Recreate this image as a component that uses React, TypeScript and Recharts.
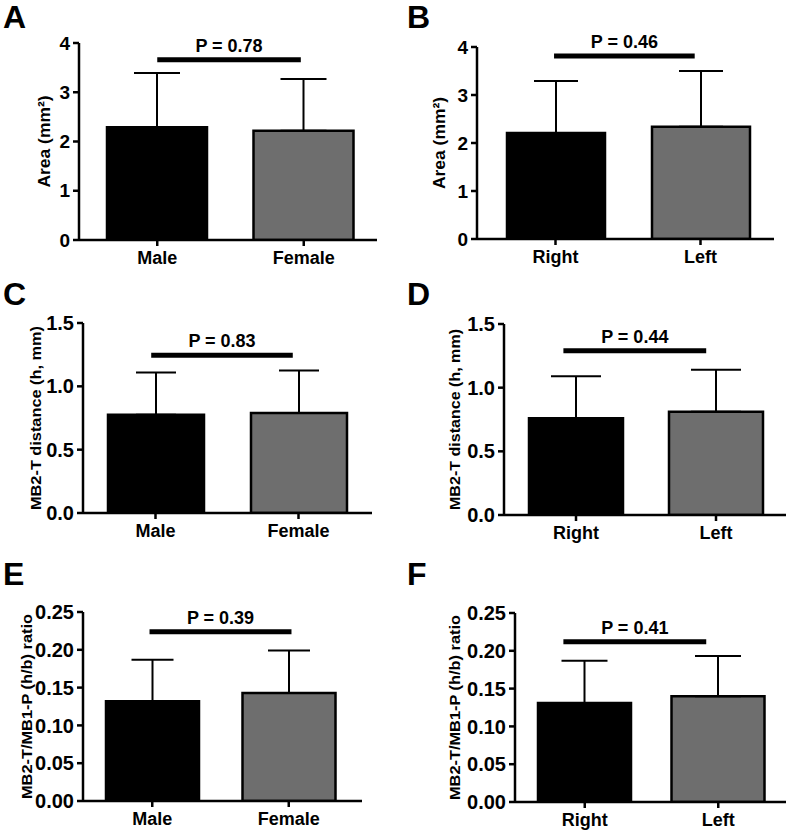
import { BarChart, Bar, Cell, XAxis, YAxis, ErrorBar, ReferenceLine, Label } from 'recharts'

const FONT = '"Liberation Sans", Arial, sans-serif'

const SEX = ['Male', 'Female']
const SIDE = ['Right', 'Left']

const areaBySexMean = [2.29, 2.22]
const areaBySexSD = [1.1, 1.05]
const areaBySideMean = [2.21, 2.34]
const areaBySideSD = [1.08, 1.16]

const distBySexMean = [0.775, 0.79]
const distBySexSD = [0.335, 0.335]
const distBySideMean = [0.76, 0.81]
const distBySideSD = [0.33, 0.33]

const ratioBySexMean = [0.132, 0.143]
const ratioBySexSD = [0.055, 0.056]
const ratioBySideMean = [0.131, 0.14]
const ratioBySideSD = [0.056, 0.053]

const P_VALUES = ['0.78', '0.46', '0.83', '0.44', '0.39', '0.41']
const P_LEVEL = [3.66, 3.81, 1.245, 1.29, 0.224, 0.212]
// where the significance bar starts/ends, as a fraction of the distance between the two bar centres
const P_SPAN = [
  [0, 0.98],
  [-0.01, 0.96],
  [-0.03, 0.96],
  [-0.09, 0.93],
  [-0.02, 1.02],
  [-0.16, 0.91],
]

const AREA_TICKS = [0, 1, 2, 3, 4]
const DIST_TICKS = [0, 0.5, 1, 1.5]
const RATIO_TICKS = [0, 0.05, 0.1, 0.15, 0.2, 0.25]

const BAR_FILLS = ['#000000', '#6e6e6e']

type Layout = {
  ox: number
  oy: number
  w: number
  h: number
  yw: number
  mt: number
  mb: number
  mr: number
  pad: { left: number; right: number }
  barSize: number
  cap: number
  tickFont: number
  labelGap: number
  labelSize: number
  labelLen: number
}

type PanelDef = {
  letter: string
  cats: string[]
  means: number[]
  sds: number[]
  ticks: number[]
  decimals: number
  yLabel: string
  layout: Layout
}

const panels: PanelDef[] = [
  {
    letter: 'A', cats: SEX, means: areaBySexMean, sds: areaBySexSD, ticks: AREA_TICKS, decimals: 0,
    yLabel: 'Area (mm²)',
    layout: { ox: 0, oy: 0, w: 396, h: 280, yw: 79, mt: 43, mb: 10, mr: 19, pad: { left: 5, right: 0 }, barSize: 100, cap: 23, tickFont: 19, labelGap: 35, labelSize: 17, labelLen: 92 },
  },
  {
    letter: 'B', cats: SIDE, means: areaBySideMean, sds: areaBySideSD, ticks: AREA_TICKS, decimals: 0,
    yLabel: 'Area (mm²)',
    layout: { ox: 396, oy: 0, w: 396, h: 280, yw: 81, mt: 47, mb: 11, mr: 18, pad: { left: 6, right: 1 }, barSize: 98, cap: 22, tickFont: 19, labelGap: 38, labelSize: 17, labelLen: 92 },
  },
  {
    letter: 'C', cats: SEX, means: distBySexMean, sds: distBySexSD, ticks: DIST_TICKS, decimals: 1,
    yLabel: 'MB2-T distance (h, mm)',
    layout: { ox: 0, oy: 280, w: 396, h: 280, yw: 83, mt: 43, mb: 17, mr: 24, pad: { left: 1, right: 2 }, barSize: 96, cap: 20, tickFont: 20, labelGap: 48, labelSize: 15, labelLen: 184 },
  },
  {
    letter: 'D', cats: SIDE, means: distBySideMean, sds: distBySideSD, ticks: DIST_TICKS, decimals: 1,
    yLabel: 'MB2-T distance (h, mm)',
    layout: { ox: 396, oy: 280, w: 396, h: 280, yw: 108, mt: 44, mb: 15, mr: 6, pad: { left: 2, right: 0 }, barSize: 94, cap: 25, tickFont: 20, labelGap: 50, labelSize: 15, labelLen: 181 },
  },
  {
    letter: 'E', cats: SEX, means: ratioBySexMean, sds: ratioBySexSD, ticks: RATIO_TICKS, decimals: 2,
    yLabel: 'MB2-T/MB1-P (h/b) ratio',
    layout: { ox: 0, oy: 560, w: 396, h: 272, yw: 83, mt: 52, mb: 1, mr: 34, pad: { left: 1, right: 5 }, barSize: 93, cap: 21, tickFont: 20, labelGap: 57, labelSize: 15, labelLen: 185 },
  },
  {
    letter: 'F', cats: SIDE, means: ratioBySideMean, sds: ratioBySideSD, ticks: RATIO_TICKS, decimals: 2,
    yLabel: 'MB2-T/MB1-P (h/b) ratio',
    layout: { ox: 396, oy: 560, w: 396, h: 272, yw: 119, mt: 53, mb: 0, mr: 6, pad: { left: 3, right: 1 }, barSize: 93, cap: 23, tickFont: 20, labelGap: 61, labelSize: 15, labelLen: 185 },
  },
]

function YTitle(props: any) {
  const { viewBox, text, gap, size, len } = props
  const cx = viewBox.x + viewBox.width - gap
  const cy = viewBox.y + viewBox.height / 2
  return (
    <text
      x={cx}
      y={cy}
      transform={`rotate(-90 ${cx} ${cy})`}
      textAnchor="middle"
      dominantBaseline="central"
      fontSize={size}
      fontWeight="bold"
      fontFamily={FONT}
      fill="#000"
      textLength={len}
      lengthAdjust="spacingAndGlyphs"
    >
      {text}
    </text>
  )
}

// significance bar, nudged along the segment between the two bar centres
function PBar(props: any) {
  const { x1, x2, y1, span, text } = props
  const d = x2 - x1
  const a = x1 + span[0] * d
  const b = x1 + span[1] * d
  return (
    <g>
      <line x1={a} x2={b} y1={y1} y2={y1} stroke="#000" strokeWidth={5} />
      <text
        x={(a + b) / 2}
        y={y1 - 8}
        textAnchor="middle"
        fontSize={18}
        fontWeight="bold"
        fontFamily={FONT}
        fill="#000"
      >
        {text}
      </text>
    </g>
  )
}

function Panel({ def, idx }: { def: PanelDef; idx: number }) {
  const L = def.layout
  const data = def.cats.map((c, i) => ({ name: c, mean: def.means[i], err: [0, def.sds[i]] }))
  const yMax = def.ticks[def.ticks.length - 1]
  const level = P_LEVEL[idx]

  return (
    <div style={{ position: 'absolute', left: L.ox, top: L.oy, width: L.w, height: L.h }}>
      <BarChart
        width={L.w}
        height={L.h}
        data={data}
        margin={{ top: L.mt, right: L.mr, bottom: L.mb, left: 0 }}
        barSize={L.barSize}
      >
        <XAxis
          dataKey="name"
          height={30}
          padding={L.pad}
          axisLine={{ stroke: '#000', strokeWidth: 2.5 }}
          tickLine={{ stroke: '#000', strokeWidth: 2.5 }}
          tickSize={6}
          tickMargin={5}
          tick={{ fill: '#000', fontSize: 18, fontWeight: 'bold', fontFamily: FONT }}
        />
        <YAxis
          width={L.yw}
          domain={[0, yMax]}
          ticks={def.ticks}
          interval={0}
          allowDataOverflow
          tickFormatter={(v: number) => v.toFixed(def.decimals)}
          axisLine={{ stroke: '#000', strokeWidth: 2.5 }}
          tickLine={{ stroke: '#000', strokeWidth: 2.5 }}
          tickSize={6}
          tickMargin={3}
          tick={{ fill: '#000', fontSize: L.tickFont, fontWeight: 'bold', fontFamily: FONT }}
        >
          <Label
            content={(p: any) => (
              <YTitle {...p} text={def.yLabel} gap={L.labelGap} size={L.labelSize} len={L.labelLen} />
            )}
          />
        </YAxis>
        <Bar dataKey="mean" isAnimationActive={false}>
          {data.map((d, i) => (
            <Cell key={d.name} fill={BAR_FILLS[i]} stroke="#000" strokeWidth={2.5} />
          ))}
          <ErrorBar dataKey="err" direction="y" width={L.cap} stroke="#000" strokeWidth={2} isAnimationActive={false} />
        </Bar>
        <ReferenceLine
          segment={[
            { x: def.cats[0], y: level },
            { x: def.cats[1], y: level },
          ]}
          ifOverflow="visible"
          shape={(p: any) => <PBar {...p} span={P_SPAN[idx]} text={`P = ${P_VALUES[idx]}`} />}
        />
      </BarChart>
      <div
        style={{
          position: 'absolute',
          left: idx % 2 === 0 ? 3 : 11,
          top: idx < 2 ? 1 : -2,
          fontFamily: FONT,
          fontWeight: 'bold',
          fontSize: 32,
          lineHeight: '32px',
          color: '#000',
        }}
      >
        {def.letter}
      </div>
    </div>
  )
}

export default function App() {
  return (
    <div style={{ position: 'absolute', left: 0, top: 0, width: 792, height: 832, background: '#fff' }}>
      {panels.map((p, i) => (
        <Panel key={p.letter} def={p} idx={i} />
      ))}
    </div>
  )
}
